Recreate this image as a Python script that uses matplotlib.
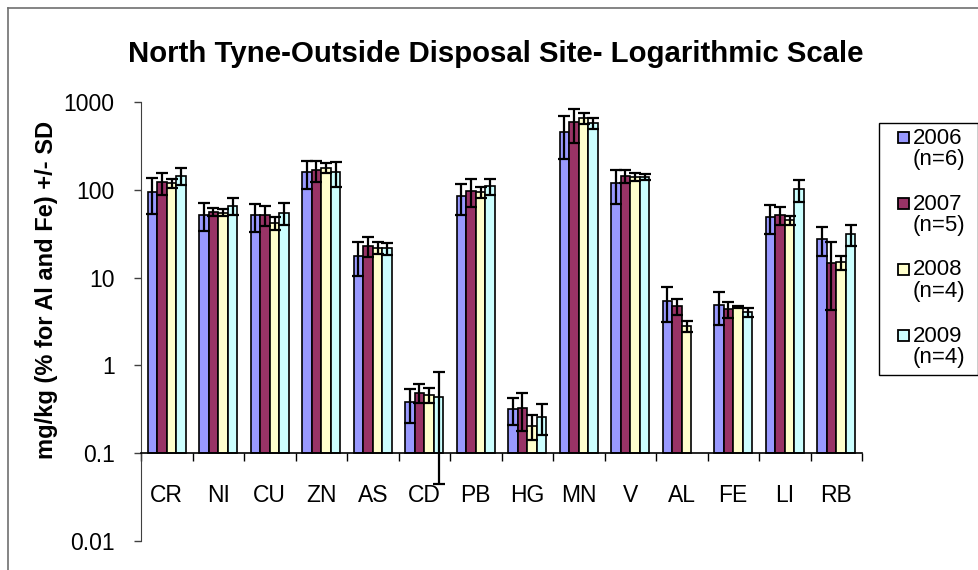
import numpy as np
import matplotlib
matplotlib.use("Agg")
import matplotlib.pyplot as plt
from matplotlib.patches import Rectangle
from matplotlib.lines import Line2D
from matplotlib.ticker import FixedLocator, FixedFormatter, NullLocator

plt.rcParams['font.family'] = ['Liberation Sans', 'DejaVu Sans']

categories = ['CR', 'NI', 'CU', 'ZN', 'AS', 'CD', 'PB', 'HG', 'MN', 'V', 'AL', 'FE', 'LI', 'RB']
years = ['2006', '2007', '2008', '2009']
counts = ['(n=6)', '(n=5)', '(n=4)', '(n=4)']
colors = ['#9999FF', '#993366', '#FFFFCC', '#CCFFFF']

mean_2006 = [95, 52, 51, 159, 17.8, 0.38, 84, 0.32, 454, 119, 5.45, 4.87, 49.4, 27.5]
sd_2006 = [42, 18, 18, 56, 7.4, 0.16, 32, 0.11, 230, 50, 2.3, 2.0, 18, 10]
mean_2007 = [122, 56, 52, 169, 23, 0.49, 98, 0.33, 590, 145, 4.74, 4.35, 51.8, 14.8]
sd_2007 = [35, 6, 13, 46, 6, 0.12, 34, 0.15, 246, 24, 0.95, 0.9, 12, 10.5]
mean_2008 = [119, 55, 42, 179, 22, 0.46, 94, 0.205, 655, 141, 2.8, 4.66, 45, 15]
sd_2008 = [15, 5, 7, 24, 3.5, 0.09, 13, 0.065, 90, 15, 0.4, 0.15, 5, 2.8]
mean_2009 = [145, 66, 55, 159, 21.5, 0.44, 111, 0.26, 574, 141, np.nan, 4.03, 102, 31.4]
sd_2009 = [31, 15, 15, 50, 3.5, 0.395, 23, 0.10, 80, 11, np.nan, 0.45, 29, 8.5]

means = [mean_2006, mean_2007, mean_2008, mean_2009]
sds = [sd_2006, sd_2007, sd_2008, sd_2009]

W, H = 979, 570
fig = plt.figure(figsize=(W / 100, H / 100), dpi=100)
ax = fig.add_axes([141 / W, 29 / H, 721 / W, 439 / H])
ax.set_yscale('log')

base = 0.1
bw = 0.186
x = np.arange(len(categories))
for k in range(4):
    m = np.array(means[k], dtype=float)
    s = np.array(sds[k], dtype=float)
    ok = ~np.isnan(m)
    xs = x[ok] + (k - 1.5) * bw
    ax.bar(xs, m[ok] - base, bottom=base, width=bw, color=colors[k],
           edgecolor='black', linewidth=1.2, zorder=2)
    ax.errorbar(xs, m[ok], yerr=s[ok], fmt='none', ecolor='black',
                elinewidth=1.6, capsize=4, capthick=1.6, zorder=3)

ax.set_xlim(-0.5, len(categories) - 0.5)
ax.set_ylim(0.01, 1000)

yt = [0.01, 0.1, 1, 10, 100, 1000]
ax.yaxis.set_major_locator(FixedLocator(yt))
ax.yaxis.set_major_formatter(FixedFormatter(['0.01', '0.1', '1', '10', '100', '1000']))
ax.yaxis.set_minor_locator(NullLocator())
ax.tick_params(axis='y', which='major', length=5, width=1, pad=14,
               labelsize=16.5, color='#404040')

ax.set_xticks(x)
ax.set_xticklabels(categories)
ax.set_xticks(np.arange(len(categories) + 1) - 0.5, minor=True)
ax.tick_params(axis='x', which='major', length=0, pad=22, labelsize=16.5)
ax.tick_params(axis='x', which='minor', length=5.5, width=1, direction='out')

ax.spines['top'].set_visible(False)
ax.spines['right'].set_visible(False)
ax.spines['bottom'].set_position(('data', 0.1))
ax.spines['bottom'].set_linewidth(1.2)
ax.spines['left'].set_color('#404040')

fig.text(495.5 / W, 1 - 62 / H, 'North Tyne-Outside Disposal Site- Logarithmic Scale',
         ha='center', va='baseline', fontsize=21.2, fontweight='bold')
fig.text(47 / W, 1 - 290 / H, 'mg/kg (% for Al and Fe) +/- SD', rotation=90,
         ha='center', va='center', fontsize=17, fontweight='bold')

# chart border
fig.add_artist(Line2D([8 / W, 8 / W], [0, 1 - 8 / H], color='#707070', lw=1.2))
fig.add_artist(Line2D([8 / W, 1], [1 - 8 / H, 1 - 8 / H], color='#707070', lw=1.2))

# legend
fig.add_artist(Rectangle((879 / W, 1 - 375 / H), 99 / W, 252 / H, transform=fig.transFigure,
                         facecolor='white', edgecolor='black', lw=1))
for k in range(4):
    yc = 138 + 66 * k
    fig.add_artist(Rectangle((898 / W, 1 - (yc + 5) / H), 11 / W, 11 / H,
                             transform=fig.transFigure, facecolor=colors[k],
                             edgecolor='black', lw=1.3))
    fig.text(913 / W, 1 - yc / H, years[k], ha='left', va='center', fontsize=16)
    fig.text(913 / W, 1 - (yc + 21) / H, counts[k], ha='left', va='center', fontsize=16)

fig.savefig('out.png', dpi=100)
